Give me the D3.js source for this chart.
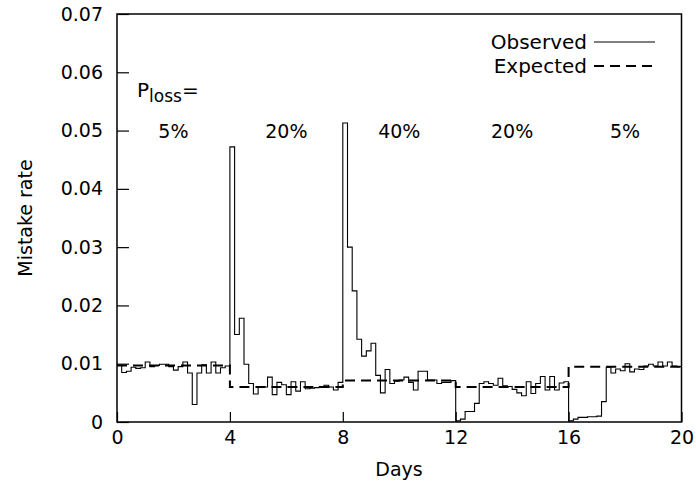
<!DOCTYPE html>
<html>
<head>
<meta charset="utf-8">
<script src="https://cdn.jsdelivr.net/npm/d3@7"></script>
<style>
  body { margin: 0; background: #fff; }
  svg { display: block; }
  text { font-family: "DejaVu Sans", sans-serif; fill: #000; }
</style>
</head>
<body>
<svg id="chart" width="696" height="487"></svg>
<script>
// ---- data ----
const binWidthDays = 1 / 6;
const observed = [
  // days 0-4
  0.0097, 0.0085, 0.0087, 0.0094, 0.0092, 0.0093, 0.0103, 0.0095, 0.0097, 0.0099, 0.0099, 0.0095,
  0.0089, 0.0095, 0.0103, 0.0084, 0.0030, 0.0084, 0.0098, 0.0084, 0.0103, 0.0084, 0.0093, 0.0096,
  // days 4-8
  0.0472, 0.0150, 0.0178, 0.0099, 0.0066, 0.0048, 0.0060, 0.0060, 0.0077, 0.0047, 0.0068, 0.0064,
  0.0047, 0.0069, 0.0053, 0.0069, 0.0057, 0.0058, 0.0059, 0.0061, 0.0063, 0.0060, 0.0055, 0.0068,
  // days 8-12
  0.0513, 0.0300, 0.0225, 0.0142, 0.0113, 0.0122, 0.0135, 0.0080, 0.0050, 0.0090, 0.0066, 0.0070,
  0.0072, 0.0077, 0.0068, 0.0055, 0.0087, 0.0087, 0.0072, 0.0072, 0.0066, 0.0068, 0.0068, 0.0071,
  // days 12-16
  0.0002, 0.0005, 0.0018, 0.0018, 0.0032, 0.0066, 0.0069, 0.0066, 0.0063, 0.0075, 0.0062, 0.0061,
  0.0056, 0.0050, 0.0045, 0.0069, 0.0049, 0.0066, 0.0078, 0.0055, 0.0078, 0.0055, 0.0067, 0.0069,
  // days 16-20
  0.0002, 0.0005, 0.0008, 0.0008, 0.0009, 0.0009, 0.0010, 0.0035, 0.0094, 0.0084, 0.0091, 0.0088,
  0.0100, 0.0086, 0.0091, 0.0090, 0.0096, 0.0099, 0.0096, 0.0103, 0.0096, 0.0103, 0.0096, 0.0095
];
const expectedDays = [0, 4, 8, 12, 16, 20];
const expectedValues = [0.0097, 0.0060, 0.0071, 0.0060, 0.0095, 0.0095];
const lossLabels = ["5%", "20%", "40%", "20%", "5%"];
const lossLabelDays = [2, 6, 10, 14, 18];
const xTicks = [0, 4, 8, 12, 16, 20];
const yTicks = [0, 0.01, 0.02, 0.03, 0.04, 0.05, 0.06, 0.07];

// ---- layout ----
const svg = d3.select("#chart");
const mLeft = 117, mRight = 681.5, mTop = 14, mBottom = 422;
const x = d3.scaleLinear().domain([0, 20]).range([mLeft, mRight]);
const y = d3.scaleLinear().domain([0, 0.07]).range([mBottom, mTop]);
const fs = 19;

// frame
svg.append("rect")
  .attr("x", mLeft).attr("y", mTop)
  .attr("width", mRight - mLeft).attr("height", mBottom - mTop)
  .attr("fill", "none").attr("stroke", "#000").attr("stroke-width", 1.5);

// y axis
const yAxis = d3.axisLeft(y).tickValues(yTicks).tickSize(-12).tickPadding(14)
  .tickFormat(d => d === 0 ? "0" : d3.format(".2f")(d));
const gy = svg.append("g").attr("transform", `translate(${mLeft},0)`).call(yAxis);
gy.select(".domain").remove();
gy.selectAll("line").attr("stroke", "#000").attr("stroke-width", 1.2);
gy.selectAll("text").attr("font-size", fs).attr("font-family", "DejaVu Sans, sans-serif").attr("fill", "#000");

// x axis
const xAxis = d3.axisBottom(x).tickValues(xTicks).tickSize(-10).tickPadding(9)
  .tickFormat(d3.format("d"));
const gx = svg.append("g").attr("transform", `translate(0,${mBottom})`).call(xAxis);
gx.select(".domain").remove();
gx.selectAll("line").attr("stroke", "#000").attr("stroke-width", 1.2);
gx.selectAll("text").attr("font-size", fs).attr("font-family", "DejaVu Sans, sans-serif").attr("fill", "#000");

// axis titles
svg.append("text").attr("x", 399).attr("y", 476).attr("text-anchor", "middle")
  .attr("font-size", fs).text("Days");
svg.append("text").attr("transform", "translate(32,218) rotate(-90)")
  .attr("text-anchor", "middle").attr("font-size", fs).text("Mistake rate");

// observed step line
const obsPts = observed.map((v, i) => [i * binWidthDays, v]);
obsPts.push([20, observed[observed.length - 1]]);
const stepLine = d3.line().x(d => x(d[0])).y(d => y(d[1])).curve(d3.curveStepAfter);
svg.append("path").datum(obsPts).attr("d", stepLine)
  .attr("fill", "none").attr("stroke", "#000").attr("stroke-width", 1.1);

// expected step line (dashed)
const expPts = expectedDays.map((d, i) => [d, expectedValues[i]]);
svg.append("path").datum(expPts).attr("d", stepLine)
  .attr("fill", "none").attr("stroke", "#000").attr("stroke-width", 2)
  .attr("stroke-dasharray", "10,6");

// loss labels
const pl = svg.append("text").attr("x", 137).attr("y", 97).attr("font-size", 20);
pl.append("tspan").text("P");
pl.append("tspan").attr("font-size", 17).attr("dy", 5).text("loss");
pl.append("tspan").attr("dy", -5).text("=");

svg.selectAll(".loss").data(lossLabels).enter().append("text")
  .attr("class", "loss")
  .attr("x", (d, i) => x(lossLabelDays[i]))
  .attr("y", 138).attr("text-anchor", "middle").attr("font-size", fs)
  .text(d => d);

// legend
const legend = [
  { label: "Observed", dash: null, w: 1.1, yy: 42 },
  { label: "Expected", dash: "10,6", w: 2, yy: 66 }
];
legend.forEach(l => {
  svg.append("text").attr("x", 587).attr("y", l.yy + 7).attr("text-anchor", "end")
    .attr("font-size", 20).text(l.label);
  svg.append("line").attr("x1", 594).attr("x2", 655).attr("y1", l.yy).attr("y2", l.yy)
    .attr("stroke", "#000").attr("stroke-width", l.w)
    .attr("stroke-dasharray", l.dash);
});
</script>
</body>
</html>
